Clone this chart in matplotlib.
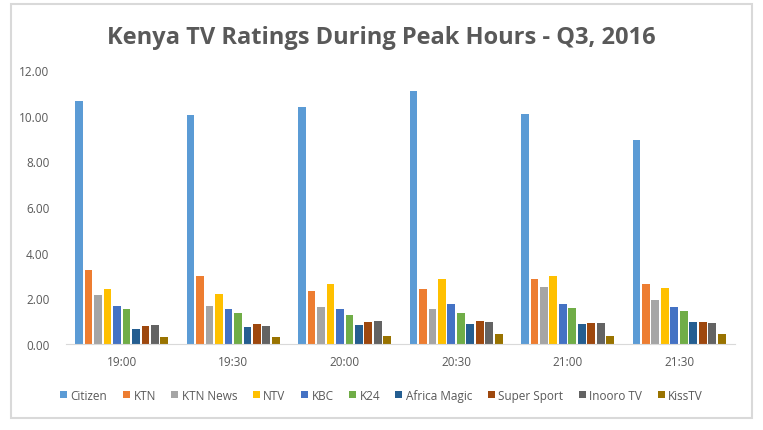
import numpy as np
import matplotlib.pyplot as plt
from matplotlib.patches import Rectangle

times = ['19:00', '19:30', '20:00', '20:30', '21:00', '21:30']
channels = ['Citizen', 'KTN', 'KTN News', 'NTV', 'KBC', 'K24',
            'Africa Magic', 'Super Sport', 'Inooro TV', 'KissTV']
colors = ['#5B9BD5', '#ED7D31', '#A5A5A5', '#FFC000', '#4472C4', '#70AD47',
          '#255E91', '#9E480E', '#636363', '#997300']

citizen = [10.63, 10.03, 10.39, 11.08, 10.07, 8.94]
ktn = [3.26, 2.98, 2.32, 2.42, 2.85, 2.63]
ktn_news = [2.13, 1.66, 1.62, 1.53, 2.50, 1.94]
ntv = [2.39, 2.19, 2.63, 2.83, 2.98, 2.45]
kbc = [1.66, 1.53, 1.53, 1.75, 1.75, 1.62]
k24 = [1.53, 1.36, 1.27, 1.36, 1.58, 1.45]
africa_magic = [0.66, 0.74, 0.83, 0.89, 0.88, 0.96]
super_sport = [0.79, 0.88, 0.96, 1.01, 0.90, 0.96]
inooro = [0.83, 0.79, 1.01, 0.96, 0.90, 0.90]
kiss = [0.32, 0.32, 0.35, 0.44, 0.34, 0.44]

series = [citizen, ktn, ktn_news, ntv, kbc, k24, africa_magic, super_sport, inooro, kiss]

plt.rcParams['font.family'] = ['Open Sans', 'DejaVu Sans']
fig = plt.figure(figsize=(7.63, 4.31), dpi=100)
ax = fig.add_axes([0.0865, 0.1995, 0.8765, 0.6355])

x = np.arange(len(times))
slot = 0.85 / len(channels)
for i, (name, vals) in enumerate(zip(channels, series)):
    off = (i - (len(channels) - 1) / 2) * slot
    ax.bar(x + off, vals, width=slot * 0.82, color=colors[i], label=name)

ax.set_xlim(-0.5, len(times) - 0.5)
ax.set_ylim(0, 12)
ax.set_yticks(np.arange(0, 12.1, 2))
ax.set_yticklabels(['%.2f' % v for v in np.arange(0, 12.1, 2)])
ax.set_xticks(x)
ax.set_xticklabels(times)
ax.tick_params(axis='both', length=0, labelsize=8.5, colors='#595959', pad=8)
ax.tick_params(axis='y', pad=12)
for s in ['top', 'right', 'left']:
    ax.spines[s].set_visible(False)
ax.spines['bottom'].set_color('#d9d9d9')

fig.text(0.5, 0.912, 'Kenya TV Ratings During Peak Hours - Q3, 2016',
         ha='center', va='center', fontsize=17, fontweight='bold', color='#595959')

fig.legend(loc='center', bbox_to_anchor=(0.5, 0.081), ncol=10, frameon=False,
           fontsize=8.5, handlelength=0.6, handleheight=0.6, handletextpad=0.3,
           columnspacing=1.3, labelcolor='#595959')

# chart frame
fig.patches.append(Rectangle((0.0144, 0.0278), 0.9712, 0.9602, transform=fig.transFigure,
                             fill=False, edgecolor='#d9d9d9', linewidth=1.5))

fig.savefig('out.png', dpi=100)
